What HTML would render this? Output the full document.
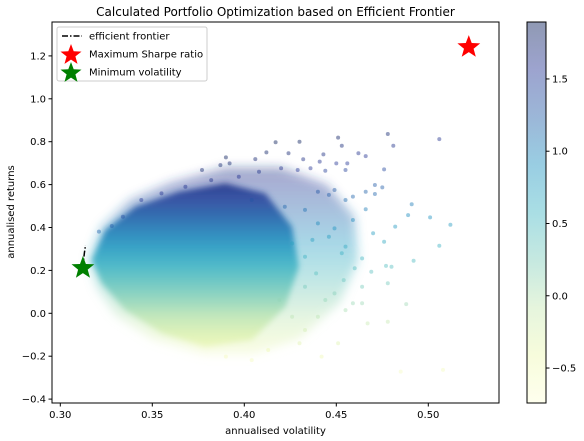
<!DOCTYPE html>
<html><head><meta charset="utf-8">
<style>
html,body{margin:0;padding:0;background:#fff;}
svg{display:block;font-family:"DejaVu Sans","Liberation Sans",sans-serif;}
</style></head>
<body>
<svg id="chart" width="584" height="441" viewBox="0 0 584 441">
<defs>
<filter id="soft" x="-10%" y="-10%" width="120%" height="120%"><feGaussianBlur stdDeviation="3"/></filter>
<filter id="softer" x="-15%" y="-15%" width="130%" height="130%"><feGaussianBlur stdDeviation="5"/></filter>
</defs>
</svg>
<script>
// ---- data ----
const ptVol = [0.417,0.430,0.451,0.478,0.506,0.453,0.390,0.412,0.424,0.432,0.443,0.462,0.466,0.441,0.450,0.456,0.481,0.406,0.392,0.387,0.377,0.476,0.455,0.444,0.436,0.429,0.420,0.408,0.471,0.475,0.466,0.471,0.459,0.455,0.449,0.446,0.440,0.491,0.489,0.501,0.512,0.482,0.466,0.459,0.470,0.476,0.506,0.492,0.477,0.480,0.469,0.460,0.464,0.455,0.449,0.446,0.453,0.478,0.464,0.454,0.449,0.444,0.459,0.464,0.488,0.478,0.467,0.455,0.440,0.433,0.442,0.485,0.508,0.451,0.426,0.419,0.433,0.439,0.433,0.426,0.437,0.440,0.433,0.422,0.404,0.397,0.382,0.368,0.355,0.344,0.334,0.328,0.321,0.404,0.390,0.413,0.430];
const ptRet = [0.797,0.800,0.819,0.836,0.812,0.781,0.727,0.750,0.746,0.718,0.741,0.746,0.733,0.707,0.699,0.699,0.781,0.719,0.699,0.691,0.668,0.671,0.668,0.665,0.676,0.668,0.676,0.660,0.598,0.587,0.567,0.556,0.544,0.528,0.575,0.552,0.567,0.508,0.458,0.447,0.413,0.404,0.485,0.435,0.373,0.334,0.315,0.245,0.221,0.217,0.194,0.210,0.256,0.311,0.396,0.357,0.280,0.140,0.124,0.155,0.093,0.062,0.047,0.047,0.043,-0.039,-0.047,0.015,-0.016,-0.078,-0.202,-0.272,-0.264,-0.140,-0.016,0.062,0.124,0.186,0.264,0.326,0.342,0.419,0.482,0.497,0.528,0.637,0.621,0.590,0.559,0.528,0.450,0.407,0.381,-0.218,-0.202,-0.171,-0.140];
const coreVol = [0.3172,0.3245,0.3408,0.3643,0.3897,0.4114,0.4259,0.4296,0.4223,0.4042,0.3788,0.3553,0.3353,0.3227];
const coreRet = [0.248,0.388,0.497,0.567,0.606,0.559,0.404,0.217,0.031,-0.124,-0.156,-0.093,0.015,0.140];
const haloVol = [0.315,0.322,0.338,0.360,0.390,0.420,0.445,0.460,0.462,0.452,0.430,0.405,0.378,0.350,0.330,0.320];
const haloRet = [0.25,0.40,0.53,0.61,0.68,0.68,0.60,0.45,0.25,0.05,-0.12,-0.19,-0.19,-0.12,-0.01,0.12];
const frontierVol = [0.3123,0.3126,0.3131,0.3137];
const frontierRet = [0.211,0.245,0.282,0.318];
const maxSharpe = [0.522,1.241];
const minVol = [0.3123,0.211];
const xTicks = [0.30,0.35,0.40,0.45,0.50];
const xTickLabels = ["0.30","0.35","0.40","0.45","0.50"];
const yTicks = [-0.4,-0.2,0.0,0.2,0.4,0.6,0.8,1.0,1.2];
const yTickLabels = ["\u22120.4","\u22120.2","0.0","0.2","0.4","0.6","0.8","1.0","1.2"];
const cbTicks = [-0.5,0.0,0.5,1.0,1.5];
const cbTickLabels = ["\u22120.5","0.0","0.5","1.0","1.5"];
const cbMin = -0.742, cbMax = 1.894;

// ---- geometry ----
const L=52,R=499,T=22,B=403;
const X0=0.30,XPX0=60.3,XS=1840;
const Y0=0,YPX0=313.3,YS=214.5;
const xS=v=>XPX0+(v-X0)*XS;
const yS=v=>YPX0-(v-Y0)*YS;
const CBL=527,CBR=546;
const cbS=v=>T+(cbMax-v)/(cbMax-cbMin)*(B-T);

const stops=["#ffffd9","#edf8b1","#c7e9b4","#7fcdbb","#41b6c4","#1d91c0","#225ea8","#253494","#081d58"];
function hex(h){return [1,3,5].map(i=>parseInt(h.substr(i,2),16));}
function cmap(t){t=Math.max(0,Math.min(1,t));const f=t*8,i=Math.min(7,Math.floor(f)),u=f-i;
 const a=hex(stops[i]),b=hex(stops[i+1]);return "rgb("+a.map((c,k)=>Math.round(c+(b[k]-c)*u)).join(",")+")";}
const normC=v=>(v-cbMin)/(cbMax-cbMin);

const NS="http://www.w3.org/2000/svg";
const svg=document.getElementById("chart");
const defs=svg.querySelector("defs");
function mk(tag,attrs,parent){const e=document.createElementNS(NS,tag);for(const k in attrs)e.setAttribute(k,attrs[k]);(parent||svg).appendChild(e);return e;}

const grad=mk("linearGradient",{id:"coreGrad",gradientUnits:"userSpaceOnUse",x1:0,x2:0,y1:yS(0.62),y2:yS(-0.17)},defs);
for(let i=0;i<=10;i++){const r=0.62-i*0.079;mk("stop",{offset:(i/10).toFixed(2),"stop-color":cmap(normC(r/0.37))},grad);}
const hgrad=mk("linearGradient",{id:"haloGrad",gradientUnits:"userSpaceOnUse",x1:0,x2:0,y1:yS(0.70),y2:yS(-0.20)},defs);
for(let i=0;i<=10;i++){const r=0.70-i*0.09;mk("stop",{offset:(i/10).toFixed(2),"stop-color":cmap(normC(r/0.40))},hgrad);}
const clip=mk("clipPath",{id:"plotClip"},defs);mk("rect",{x:L,y:T,width:R-L,height:B-T},clip);

const plot=mk("g",{"clip-path":"url(#plotClip)"});



const haloPts=haloVol.map((v,i)=>xS(v).toFixed(1)+","+yS(haloRet[i]).toFixed(1)).join(" ");
const halo=mk("polygon",{points:haloPts,fill:"url(#haloGrad)","fill-opacity":0.4,filter:"url(#softer)"},plot);



const corePts=coreVol.map((v,i)=>xS(v).toFixed(1)+","+yS(coreRet[i]).toFixed(1)).join(" ");
const core=mk("polygon",{points:corePts,fill:"url(#coreGrad)","fill-opacity":0.85,filter:"url(#soft)"},plot);



ptVol.forEach((v,i)=>{
 const c=mk("circle",{cx:xS(v).toFixed(1),cy:yS(ptRet[i]).toFixed(1),r:2,fill:cmap(normC(ptRet[i]/v)),"fill-opacity":0.45},plot);
 
 
});

const fr=mk("polyline",{points:frontierVol.map((v,i)=>xS(v)+","+yS(frontierRet[i])).join(" "),fill:"none",stroke:"#000","stroke-width":1.5,"stroke-dasharray":"6,2,1.5,2"},plot);



function star(cx,cy,ro,fill,parent){const p=[];for(let k=0;k<10;k++){const a=-Math.PI/2+k*Math.PI/5,r=k%2?ro*0.42:ro;p.push((cx+r*Math.cos(a)).toFixed(1)+","+(cy+r*Math.sin(a)).toFixed(1));}return mk("polygon",{points:p.join(" "),fill:fill},parent);}
const s1=star(xS(maxSharpe[0]),yS(maxSharpe[1]),12,"#ff0000",plot);


const s2=star(xS(minVol[0]),yS(minVol[1]),12,"#008000",plot);



const fr2=mk("rect",{x:L,y:T,width:R-L,height:B-T,fill:"none",stroke:"#000","stroke-width":1});



xTicks.forEach((v,i)=>{const x=xS(v);
 const t=mk("line",{x1:x,x2:x,y1:B,y2:B+3.5,stroke:"#000"});
 
 
 const l=mk("text",{x:x,y:B+15,"text-anchor":"middle","font-size":10});l.textContent=xTickLabels[i];
 
 
});
yTicks.forEach((v,i)=>{const y=yS(v);
 const t=mk("line",{x1:L-3.5,x2:L,y1:y,y2:y,stroke:"#000"});
 
 
 const l=mk("text",{x:L-6,y:y+3.5,"text-anchor":"end","font-size":10});l.textContent=yTickLabels[i];
 
 
});

const cbg=mk("linearGradient",{id:"cbGrad",x1:0,x2:0,y1:1,y2:0},defs);
for(let i=0;i<=16;i++){mk("stop",{offset:(i/16).toFixed(3),"stop-color":cmap(i/16)},cbg);}
const cb=mk("rect",{x:CBL,y:T,width:CBR-CBL,height:B-T,fill:"url(#cbGrad)","fill-opacity":0.45,stroke:"#000","stroke-width":1});


cbTicks.forEach((v,i)=>{const y=cbS(v);
 const t=mk("line",{x1:CBR,x2:CBR+3.5,y1:y,y2:y,stroke:"#000"});
 
 
 const l=mk("text",{x:CBR+6,y:y+3.5,"font-size":10});l.textContent=cbTickLabels[i];
 
 
});

// static text & legend
let t=mk("text",{x:275.5,y:16,"text-anchor":"middle","font-size":12});t.textContent="Calculated Portfolio Optimization based on Efficient Frontier";


t=mk("text",{x:275.5,y:434,"text-anchor":"middle","font-size":10});t.textContent="annualised volatility";


t=mk("text",{x:14,y:212,"text-anchor":"middle","font-size":10,transform:"rotate(-90 14 212)"});t.textContent="annualised returns";


const lg=mk("rect",{x:57,y:27,width:150,height:54,rx:2,fill:"#fff","fill-opacity":0.8,stroke:"#ccc"});


const ln=mk("line",{x1:62,x2:82,y1:36,y2:36,stroke:"#000","stroke-width":1.5,"stroke-dasharray":"6,2,1.5,2"});


let s=star(71,55,11,"#ff0000");


s=star(71,73,11,"#008000");


const labels=["efficient frontier","Maximum Sharpe ratio","Minimum volatility"],names=["legend-entry-frontier","legend-entry-max-sharpe","legend-entry-min-vol"];
labels.forEach((txt,i)=>{const e=mk("text",{x:89,y:39.5+i*18,"font-size":10});e.textContent=txt;
 
 });
</script>
</body></html>
